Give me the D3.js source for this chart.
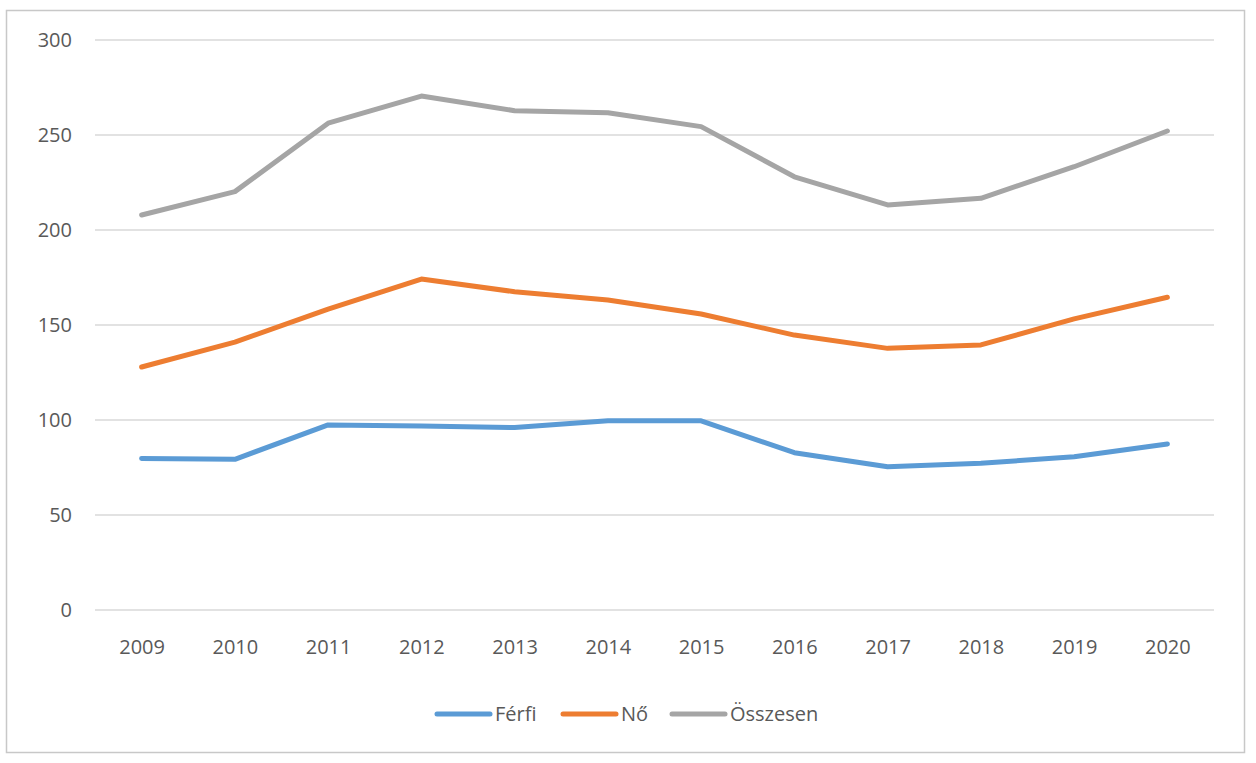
<!DOCTYPE html>
<html>
<head>
<meta charset="utf-8">
<script src="https://cdn.jsdelivr.net/npm/d3@7"></script>
<style>
  body { margin: 0; background: #fff; }
  text { font-family: "Open Sans", "Liberation Sans", sans-serif; fill: #595959; }
</style>
</head>
<body>
<svg id="chart"></svg>
<script>
const years = ['2009','2010','2011','2012','2013','2014','2015','2016','2017','2018','2019','2020'];
const ferfi = [79.8, 79.3, 97.4, 96.8, 96.0, 99.6, 99.6, 82.8, 75.4, 77.2, 80.7, 87.4];
const no = [127.9, 141.0, 158.4, 174.2, 167.5, 163.2, 155.8, 144.7, 137.7, 139.5, 153.2, 164.6];
const osszesen = [207.9, 220.2, 256.2, 270.5, 262.8, 261.7, 254.4, 228.0, 213.2, 216.7, 233.3, 252.1];
const yTicks = [0, 50, 100, 150, 200, 250, 300];
const seriesNames = ['Férfi', 'Nő', 'Összesen'];
const colors = ['#5B9BD5', '#ED7D31', '#A5A5A5'];

const W = 1256, H = 763;
const svg = d3.select('#chart').attr('width', W).attr('height', H);

// outer frame
svg.append('rect')
  .attr('x', 6.5).attr('y', 10.5)
  .attr('width', 1238).attr('height', 742)
  .attr('fill', 'none').attr('stroke', '#c8c8c8').attr('stroke-width', 1.5);

const plot = { left: 95, right: 1214, top: 40, bottom: 610 };

const x = d3.scalePoint()
  .domain(years)
  .range([plot.left, plot.right])
  .padding(0.5);

const y = d3.scaleLinear()
  .domain([0, 300])
  .range([plot.bottom, plot.top]);

// gridlines
svg.append('g')
  .selectAll('line')
  .data(yTicks)
  .join('line')
  .attr('x1', plot.left).attr('x2', plot.right)
  .attr('y1', d => y(d)).attr('y2', d => y(d))
  .attr('stroke', '#d9d9d9').attr('stroke-width', 1.5);

// y axis labels
const yAxis = svg.append('g')
  .attr('transform', `translate(${plot.left - 23},0)`)
  .call(d3.axisLeft(y).tickValues(yTicks).tickSize(0).tickPadding(0));
yAxis.select('.domain').remove();
yAxis.selectAll('text').attr('font-size', 20).attr('fill', '#595959')
  .attr('font-family', '"Open Sans", "Liberation Sans", sans-serif');

// x axis labels
const xAxis = svg.append('g')
  .attr('transform', `translate(0,${plot.bottom + 30})`)
  .call(d3.axisBottom(x).tickSize(0).tickPadding(0));
xAxis.select('.domain').remove();
xAxis.selectAll('text').attr('font-size', 20).attr('fill', '#595959')
  .attr('font-family', '"Open Sans", "Liberation Sans", sans-serif');

const line = d3.line()
  .x((d, i) => x(years[i]))
  .y(d => y(d));

[ferfi, no, osszesen].forEach((vals, i) => {
  svg.append('path')
    .datum(vals)
    .attr('fill', 'none')
    .attr('stroke', colors[i])
    .attr('stroke-width', 5)
    .attr('stroke-linejoin', 'round')
    .attr('stroke-linecap', 'round')
    .attr('d', line);
});

// legend
const legendX = [437, 563, 672];
const legend = svg.append('g').attr('transform', 'translate(0,714)');
seriesNames.forEach((name, i) => {
  legend.append('line')
    .attr('x1', legendX[i]).attr('x2', legendX[i] + 53)
    .attr('y1', 0).attr('y2', 0)
    .attr('stroke', colors[i]).attr('stroke-width', 5)
    .attr('stroke-linecap', 'round');
  legend.append('text')
    .attr('x', legendX[i] + 58).attr('y', 0)
    .attr('dy', '0.35em')
    .attr('font-size', 20)
    .text(name);
});
</script>
</body>
</html>
